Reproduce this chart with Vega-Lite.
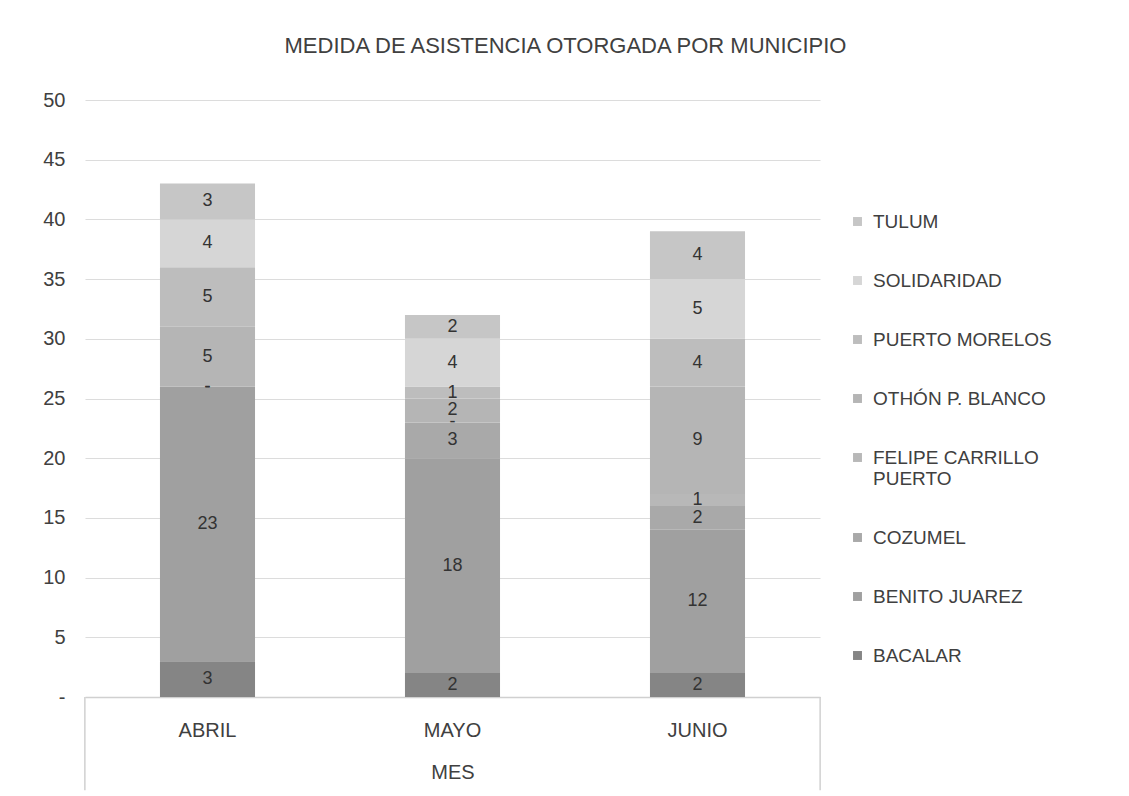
{
  "$schema": "https://vega.github.io/schema/vega-lite/v6.json",
  "autosize": {"type": "none"},
  "width": 735,
  "height": 597,
  "padding": {"left": 85, "top": 100, "right": 309, "bottom": 99},
  "background": "white",
  "title": {
    "text": "MEDIDA DE ASISTENCIA OTORGADA POR MUNICIPIO",
    "anchor": "middle",
    "frame": "group",
    "dx": 113,
    "offset": 32,
    "font": "Liberation Sans",
    "fontSize": 22,
    "fontWeight": "normal",
    "color": "#404040"
  },
  "config": {
    "view": {"stroke": null},
    "font": "Liberation Sans"
  },
  "data": {
    "values": [
      {"mes": "ABRIL", "municipio": "BACALAR", "idx": 0, "v": 3},
      {"mes": "ABRIL", "municipio": "BENITO JUAREZ", "idx": 1, "v": 23},
      {"mes": "ABRIL", "municipio": "COZUMEL", "idx": 2, "v": 0},
      {"mes": "ABRIL", "municipio": "FELIPE CARRILLO PUERTO", "idx": 3, "v": 0},
      {"mes": "ABRIL", "municipio": "OTHÓN P. BLANCO", "idx": 4, "v": 5},
      {"mes": "ABRIL", "municipio": "PUERTO MORELOS", "idx": 5, "v": 5},
      {"mes": "ABRIL", "municipio": "SOLIDARIDAD", "idx": 6, "v": 4},
      {"mes": "ABRIL", "municipio": "TULUM", "idx": 7, "v": 3},
      {"mes": "MAYO", "municipio": "BACALAR", "idx": 0, "v": 2},
      {"mes": "MAYO", "municipio": "BENITO JUAREZ", "idx": 1, "v": 18},
      {"mes": "MAYO", "municipio": "COZUMEL", "idx": 2, "v": 3},
      {"mes": "MAYO", "municipio": "FELIPE CARRILLO PUERTO", "idx": 3, "v": 0},
      {"mes": "MAYO", "municipio": "OTHÓN P. BLANCO", "idx": 4, "v": 2},
      {"mes": "MAYO", "municipio": "PUERTO MORELOS", "idx": 5, "v": 1},
      {"mes": "MAYO", "municipio": "SOLIDARIDAD", "idx": 6, "v": 4},
      {"mes": "MAYO", "municipio": "TULUM", "idx": 7, "v": 2},
      {"mes": "JUNIO", "municipio": "BACALAR", "idx": 0, "v": 2},
      {"mes": "JUNIO", "municipio": "BENITO JUAREZ", "idx": 1, "v": 12},
      {"mes": "JUNIO", "municipio": "COZUMEL", "idx": 2, "v": 2},
      {"mes": "JUNIO", "municipio": "FELIPE CARRILLO PUERTO", "idx": 3, "v": 1},
      {"mes": "JUNIO", "municipio": "OTHÓN P. BLANCO", "idx": 4, "v": 9},
      {"mes": "JUNIO", "municipio": "PUERTO MORELOS", "idx": 5, "v": 4},
      {"mes": "JUNIO", "municipio": "SOLIDARIDAD", "idx": 6, "v": 5},
      {"mes": "JUNIO", "municipio": "TULUM", "idx": 7, "v": 4}
    ]
  },
  "encoding": {
    "x": {
      "field": "mes",
      "type": "nominal",
      "sort": ["ABRIL", "MAYO", "JUNIO"],
      "scale": {"paddingInner": 0.612, "paddingOuter": 0.306},
      "axis": {
        "title": "MES",
        "titleFont": "Liberation Sans",
        "titleFontSize": 20,
        "titleFontWeight": "normal",
        "titleColor": "#404040",
        "titlePadding": 22,
        "labelAngle": 0,
        "labelFont": "Liberation Sans",
        "labelFontSize": 20,
        "labelColor": "#404040",
        "labelPadding": 23,
        "domainColor": "#d0d0d0",
        "domainWidth": 1.5,
        "ticks": false
      }
    }
  },
  "layer": [
    {
      "transform": [
        {"stack": "v", "groupby": ["mes"], "sort": [{"field": "idx", "order": "ascending"}], "as": ["v0", "v1"]}
      ],
      "mark": {"type": "bar"},
      "encoding": {
        "y": {
          "field": "v0",
          "type": "quantitative",
          "scale": {"domain": [0, 50]},
          "axis": {
            "title": null,
            "values": [0, 5, 10, 15, 20, 25, 30, 35, 40, 45, 50],
            "labelExpr": "datum.value === 0 ? '-' : datum.label",
            "labelFont": "Liberation Sans",
            "labelFontSize": 20,
            "labelColor": "#404040",
            "labelPadding": 20,
            "domain": false,
            "ticks": false,
            "gridColor": "#dcdcdc",
            "gridWidth": 1.2
          }
        },
        "y2": {"field": "v1"},
        "color": {
          "field": "municipio",
          "type": "nominal",
          "scale": {
            "domain": ["BACALAR", "BENITO JUAREZ", "COZUMEL", "FELIPE CARRILLO PUERTO", "OTHÓN P. BLANCO", "PUERTO MORELOS", "SOLIDARIDAD", "TULUM"],
            "range": ["#858585", "#a0a0a0", "#a9a9a9", "#b8b8b8", "#b5b5b5", "#bdbdbd", "#d6d6d6", "#c6c6c6"]
          },
          "legend": {
            "title": null,
            "orient": "none",
            "legendX": 763,
            "legendY": 112,
            "values": ["TULUM", "SOLIDARIDAD", "PUERTO MORELOS", "OTHÓN P. BLANCO", "FELIPE CARRILLO PUERTO", "COZUMEL", "BENITO JUAREZ", "BACALAR"],
            "symbolType": "square",
            "symbolSize": 80,
            "symbolStrokeWidth": 0,
            "labelFont": "Liberation Sans",
            "labelFontSize": 19,
            "labelColor": "#404040",
            "labelOffset": 6,
            "labelLimit": 300,
            "rowPadding": 39,
            "labelExpr": "datum.label === 'FELIPE CARRILLO PUERTO' ? ['FELIPE CARRILLO', 'PUERTO'] : datum.label"
          }
        }
      }
    },
    {
      "transform": [
        {"stack": "v", "groupby": ["mes"], "sort": [{"field": "idx", "order": "ascending"}], "as": ["v0", "v1"]},
        {"calculate": "(datum.v0 + datum.v1) / 2", "as": "vmid"},
        {"calculate": "datum.v === 0 ? '-' : '' + datum.v", "as": "lbl"}
      ],
      "mark": {"type": "text", "font": "Liberation Sans", "fontSize": 18, "color": "#333333", "baseline": "middle"},
      "encoding": {
        "y": {"field": "vmid", "type": "quantitative"},
        "text": {"field": "lbl"}
      }
    },
    {
      "data": {"values": [{"mes": "ABRIL"}]},
      "mark": {"type": "rule", "color": "#d0d0d0", "strokeWidth": 1.5},
      "encoding": {
        "x": {"field": "mes", "type": "nominal", "bandPosition": -0.79},
        "y": {"datum": 0},
        "y2": {"datum": -7.8}
      }
    },
    {
      "data": {"values": [{"mes": "JUNIO"}]},
      "mark": {"type": "rule", "color": "#d0d0d0", "strokeWidth": 1.5},
      "encoding": {
        "x": {"field": "mes", "type": "nominal", "bandPosition": 1.79},
        "y": {"datum": 0},
        "y2": {"datum": -7.8}
      }
    }
  ]
}
